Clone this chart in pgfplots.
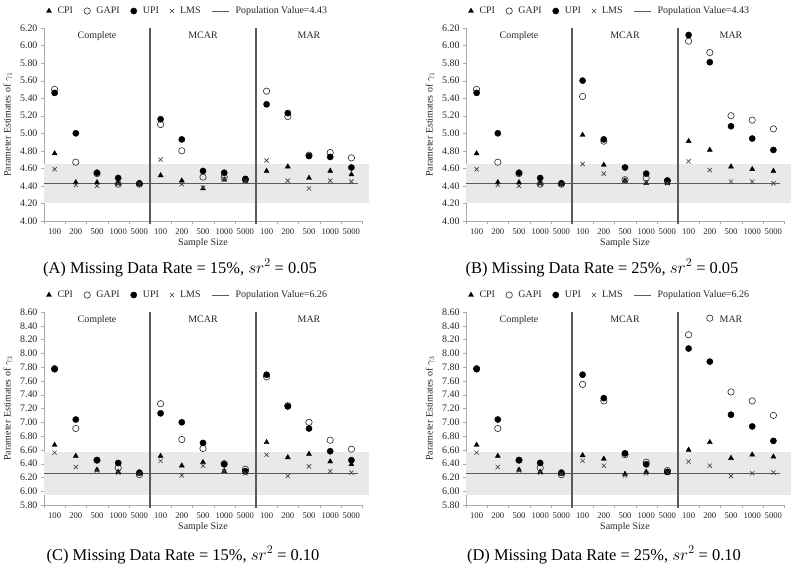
\documentclass[border=0pt]{standalone}
\usepackage{fontspec}
\setmainfont{Liberation Serif}
\usepackage{pgfplots}
\usepackage{pgfplotstable}
\pgfplotsset{compat=1.18}

\definecolor{band}{RGB}{233,233,233}
\definecolor{sep}{RGB}{90,90,90}
\definecolor{axgray}{RGB}{170,170,170}

% x: 0-4 Complete, 5-9 MCAR, 10-14 MAR (n = 100,200,500,1000,5000)
\pgfplotstableread{
x cpi gapi upi lms
0 4.77 5.50 5.46 4.59
1 4.44 4.67 5.00 4.41
2 4.44 4.54 4.55 4.40
3 4.43 4.42 4.49 4.42
4 4.42 4.42 4.43 4.42
5 4.52 5.10 5.16 4.70
6 4.46 4.80 4.93 4.42
7 4.37 4.50 4.57 4.38
8 4.47 4.50 4.55 4.48
9 4.46 4.47 4.48 4.46
10 4.57 5.48 5.33 4.69
11 4.62 5.19 5.23 4.46
12 4.49 4.75 4.74 4.37
13 4.57 4.78 4.73 4.46
14 4.53 4.72 4.61 4.45
}\dataA

\pgfplotstableread{
x cpi gapi upi lms
0 4.77 5.50 5.46 4.59
1 4.44 4.67 5.00 4.41
2 4.44 4.54 4.55 4.40
3 4.43 4.42 4.49 4.42
4 4.42 4.42 4.43 4.42
5 4.98 5.42 5.60 4.65
6 4.64 4.91 4.93 4.54
7 4.46 4.47 4.61 4.46
8 4.43 4.49 4.54 4.44
9 4.43 4.46 4.46 4.43
10 4.91 6.05 6.12 4.68
11 4.81 5.92 5.81 4.58
12 4.62 5.20 5.08 4.45
13 4.59 5.15 4.94 4.45
14 4.57 5.05 4.81 4.43
}\dataB

\pgfplotstableread{
x cpi gapi upi lms
0 6.67 7.78 7.77 6.56
1 6.51 6.91 7.04 6.35
2 6.31 6.45 6.45 6.30
3 6.28 6.34 6.41 6.27
4 6.26 6.24 6.27 6.25
5 6.51 7.27 7.13 6.44
6 6.37 6.75 7.00 6.23
7 6.42 6.62 6.70 6.37
8 6.29 6.40 6.39 6.29
9 6.28 6.32 6.29 6.26
10 6.71 7.66 7.69 6.53
11 6.49 7.24 7.23 6.22
12 6.54 7.00 6.91 6.36
13 6.43 6.74 6.58 6.29
14 6.39 6.61 6.45 6.27
}\dataC

\pgfplotstableread{
x cpi gapi upi lms
0 6.67 7.78 7.77 6.56
1 6.51 6.91 7.04 6.35
2 6.31 6.45 6.45 6.30
3 6.28 6.34 6.41 6.27
4 6.26 6.24 6.27 6.25
5 6.52 7.55 7.69 6.44
6 6.47 7.31 7.35 6.37
7 6.25 6.53 6.55 6.23
8 6.28 6.42 6.39 6.26
9 6.27 6.30 6.28 6.27
10 6.60 8.27 8.07 6.43
11 6.71 8.51 7.88 6.37
12 6.48 7.44 7.11 6.22
13 6.53 7.31 6.94 6.26
14 6.50 7.10 6.73 6.27
}\dataD

\pgfplotsset{
  panel/.style={
    scale only axis, width=318bp, height=193bp,
    clip=false,
    xmin=-0.5, xmax=14.5,
    xtick={0,...,14},
    xticklabels={100,200,500,1000,5000,100,200,500,1000,5000,100,200,500,1000,5000},
    minor xtick={-0.5,0.5,...,14.5},
    major x tick style={draw=none},
    minor x tick style={axgray},
    minor tick length=3bp,
    ytick distance=0.2,
    y tick style={axgray},
    major tick length=3bp,
    tick align=outside,
    axis x line*=bottom, axis y line*=left,
    axis line style={axgray, line width=0.6bp},
    x tick label style={font=\fontsize{8.7}{9}\selectfont, text=black!85, yshift=-1bp},
    y tick label style={font=\fontsize{10}{10}\selectfont, text=black!85,
      /pgf/number format/.cd, fixed, fixed zerofill, precision=2, assume math mode=true},
    xlabel={Sample Size},
    xlabel style={font=\fontsize{10}{10}\selectfont, text=black!85, yshift=3bp},
    every axis y label/.style={at={(axis description cs:-0.113,0.5)}, rotate=90, anchor=center,
      font=\fontsize{10}{10}\selectfont, text=black!85},
    legend columns=5,
    legend style={draw=none, fill=none, at={(axis description cs:0.452,1.088)}, anchor=center,
      font=\fontsize{10}{10}\selectfont, text=black!85,
      /tikz/every odd column/.append style={column sep=4bp},
      /tikz/every even column/.append style={column sep=9bp}},
  },
  cpi/.style={only marks, mark=triangle*, mark size=2.9bp, black},
  gapi/.style={only marks, mark=o, mark size=3.2bp, black!85, mark options={line width=0.6bp}},
  upi/.style={only marks, mark=*, mark size=3.1bp, black},
  lms/.style={only marks, mark=x, mark size=3bp, black!75, mark options={line width=0.65bp}},
  popline/.style={sep, line width=1bp},
}

% #1 table, #2 population value, #3 band low, #4 band high, #5 separator bottom, #6 ymax
\newcommand{\panelbody}[6]{%
  \fill[band] (axis cs:-0.5,#3) rectangle (axis cs:14.85,#4);
  \addplot[popline, forget plot] coordinates {(-0.5,#2) (14.3,#2)};
  \addplot[sep, line width=1.3bp, forget plot] coordinates {(4.5,#5) (4.5,#6)};
  \addplot[sep, line width=1.3bp, forget plot] coordinates {(9.5,#5) (9.5,#6)};
  \addplot[cpi] table[x=x, y=cpi] {#1}; \addlegendentry{CPI}
  \addplot[gapi] table[x=x, y=gapi] {#1}; \addlegendentry{GAPI}
  \addplot[upi] table[x=x, y=upi] {#1}; \addlegendentry{UPI}
  \addplot[lms] table[x=x, y=lms] {#1}; \addlegendentry{LMS}
  \addlegendimage{popline}\addlegendentry{Population Value=#2}
  \node[anchor=north, font=\fontsize{10}{10}\selectfont, text=black!85] at (axis cs:2,#6) {Complete};
  \node[anchor=north, font=\fontsize{10}{10}\selectfont, text=black!85] at (axis cs:7,#6) {MCAR};
  \node[anchor=north, font=\fontsize{10}{10}\selectfont, text=black!85] at (axis cs:12,#6) {MAR};
}

\begin{document}
\begin{tikzpicture}
\useasboundingbox (0,0) rectangle (800bp,570bp);

\begin{axis}[panel, at={(44bp,349bp)}, ymin=4, ymax=6.2,
  ylabel={Parameter Estimates of $\gamma_1$}]
\panelbody{\dataA}{4.43}{4.2085}{4.6515}{3.97}{6.2}
\end{axis}

\begin{axis}[panel, at={(466bp,349bp)}, ymin=4, ymax=6.2,
  ylabel={Parameter Estimates of $\gamma_1$}]
\panelbody{\dataB}{4.43}{4.2085}{4.6515}{3.97}{6.2}
\end{axis}

\begin{axis}[panel, at={(44bp,65bp)}, ymin=5.8, ymax=8.6,
  ylabel={Parameter Estimates of $\gamma_3$}]
\panelbody{\dataC}{6.26}{5.947}{6.573}{5.76}{8.6}
\end{axis}

\begin{axis}[panel, at={(466bp,65bp)}, ymin=5.8, ymax=8.6,
  ylabel={Parameter Estimates of $\gamma_3$}]
\panelbody{\dataD}{6.26}{5.947}{6.573}{5.76}{8.6}
\end{axis}

\node[font=\fontsize{16.5}{18}\selectfont] at (180bp,302bp) {(A) Missing Data Rate = 15\%, $sr^2$ = 0.05};
\node[font=\fontsize{16.5}{18}\selectfont] at (602bp,302bp) {(B) Missing Data Rate = 25\%, $sr^2$ = 0.05};
\node[font=\fontsize{16.5}{18}\selectfont] at (183bp,15bp) {(C) Missing Data Rate = 15\%, $sr^2$ = 0.10};
\node[font=\fontsize{16.5}{18}\selectfont] at (604bp,15bp) {(D) Missing Data Rate = 25\%, $sr^2$ = 0.10};
\end{tikzpicture}
\end{document}
